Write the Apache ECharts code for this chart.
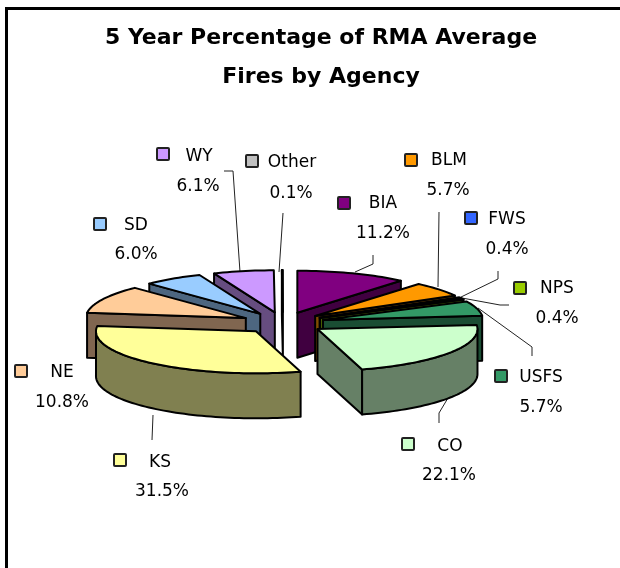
<!DOCTYPE html>
<html><head><meta charset="utf-8">
<style>html,body{margin:0;padding:0;background:#fff}#c{width:620px;height:568px}</style>
<script src="https://cdn.jsdelivr.net/npm/echarts@6/dist/echarts.min.js"></script>
</head><body><div id="c"></div>
<script>
const agencies = ['BIA','BLM','FWS','NPS','USFS','CO','KS','NE','SD','WY','Other'];
const percents = [11.2,5.7,0.4,0.4,5.7,22.1,31.5,10.8,6.0,6.1,0.1];
const topColors = ['#800080','#FF9900','#3366FF','#99CC00','#339966','#CCFFCC','#FFFF99','#FFCC99','#99CCFF','#CC99FF','#C0C0C0'];
const sideColors = ['#400040','#804D00','#1A3380','#4D6600','#1A4D33','#668066','#808050','#806650','#4D6680','#664D80','#606060'];
const paintOrder = ['Other','WY','SD','NE','BIA','BLM','FWS','NPS','USFS','CO','KS'];

const PIE = {cx:283, cy:323, a:160, b:42, depth:45, explode:0.26};
const FONT = '"DejaVu Sans"';
// label layout: [swatch x, swatch y, name x, name y, value x, value y]
const labelLayout = {
  BIA:[344,203,383,204,383,234], BLM:[411,160,449,161,448,191], FWS:[471,218,507,220,507,250],
  NPS:[520,288,557,289,557,319], USFS:[501,376,541,378,541,408], CO:[408,444,450,447,449,476],
  KS:[120,460,160,463,162,492], NE:[21,371,62,373,62,403], SD:[100,224,136,226,136,255],
  WY:[163,154,199,157,198,187], Other:[252,161,292,163,291,194]
};
const leaders = [
  [[224,171],[233,171],[240,272]],
  [[283,213],[279,272]],
  [[373,255],[373,264],[355,272]],
  [[439,212],[438,287]],
  [[498,271],[498,279],[459,298]],
  [[509,305],[500,305],[462,298]],
  [[478,308],[532,347],[532,356]],
  [[439,423],[439,413],[448,398]],
  [[152,440],[153,415]]
];

const total = percents.reduce((s,v)=>s+v,0);
const starts = {}; let acc = 0;
agencies.forEach((n,i)=>{starts[n]=acc; acc+=percents[i];});

function renderSlice(params, api){
  const pct = api.value(0), from = api.value(1), idx = api.value(2);
  const t0 = from/total*2*Math.PI, t1 = (from+pct)/total*2*Math.PI, mid=(t0+t1)/2;
  const {cx,cy,a,b,depth,explode} = PIE;
  const ax = cx + explode*a*Math.sin(mid), ay = cy - explode*b*Math.cos(mid);
  const pt = t => [ax + a*Math.sin(t), ay - b*Math.cos(t)];
  const down = p => [p[0], p[1]+depth];
  const arc = (s,e) => { const n=Math.max(2,Math.ceil((e-s)/0.03)), o=[]; for(let i=0;i<=n;i++) o.push(pt(s+(e-s)*i/n)); return o; };
  const apex=[ax,ay];
  const style = c => ({fill:c, stroke:'#000', lineWidth:2, lineJoin:'round'});
  const side = sideColors[idx], top = topColors[idx];
  const kids = [];
  const wall = pts => kids.push({type:'polygon', shape:{points:pts.concat(pts.slice().reverse().map(down))}, style:style(side)});
  if (Math.sin(t0) < 0) wall([apex, pt(t0)]);
  if (Math.sin(t1) > 0) wall([pt(t1), apex]);
  const rs=Math.max(t0,Math.PI/2), re=Math.min(t1,1.5*Math.PI);
  if (re>rs) wall(arc(rs,re));
  kids.push({type:'polygon', shape:{points:[apex].concat(arc(t0,t1))}, style:style(top)});
  return {type:'group', children:kids};
}

const graphics = [
  {type:'polyline', shape:{points:[[620,8.5],[6.5,8.5],[6.5,568]]}, style:{stroke:'#000',lineWidth:3,fill:null}}
];
leaders.forEach(p=>graphics.push({type:'polyline', shape:{points:p}, style:{stroke:'#222',lineWidth:1,fill:null}}));
agencies.forEach((n,i)=>{
  const L = labelLayout[n];
  graphics.push({type:'rect', shape:{x:L[0]-6,y:L[1]-6,width:12,height:12,r:1}, style:{fill:topColors[i],stroke:'#222',lineWidth:2}});
  const txt=(s,x,y)=>({type:'text', x, y, style:{text:s, fill:'#000', font:'17px '+FONT, textAlign:'center', textVerticalAlign:'middle'}});
  graphics.push(txt(n,L[2],L[3]));
  graphics.push(txt(percents[i].toFixed(1)+'%',L[4],L[5]));
});

const chart = echarts.init(document.getElementById('c'), null, {renderer:'canvas'});
chart.setOption({
  animation:false,
  backgroundColor:'#fff',
  title:{text:'5 Year Percentage of RMA Average\nFires by Agency', left:316, top:14, textAlign:'center',
    textStyle:{fontFamily:FONT, fontSize:22, fontWeight:'bold', color:'#000', lineHeight:39}},
  series:[{type:'custom', coordinateSystem:'none', renderItem:renderSlice, silent:true,
    data:paintOrder.map(n=>{const i=agencies.indexOf(n); return {name:n, value:[percents[i],starts[n],i]};})}],
  graphic:graphics
});
</script></body></html>
